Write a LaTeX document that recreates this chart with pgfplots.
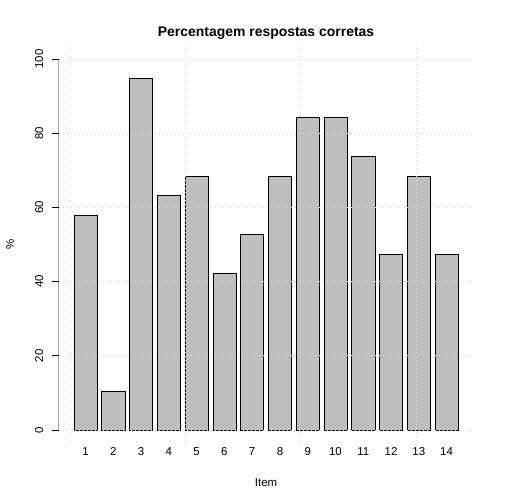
\documentclass[border=0pt]{standalone}
\usepackage{pgfplots}
\pgfplotsset{compat=1.18}
\usepackage{fontspec}
\setmainfont{Liberation Sans}
\definecolor{barfill}{RGB}{190,190,190}
\definecolor{gridc}{RGB}{215,215,215}
\begin{document}
\begin{tikzpicture}[x=1bp,y=1bp]
\useasboundingbox (0,0) rectangle (504,504);
\begin{axis}[
  at={(58.6bp,59.2bp)}, anchor=south west,
  scale only axis, width=414.9bp, height=400.6bp,
  xmin=-0.464, xmax=17.464, ymin=-4, ymax=104,
  axis line style={draw=none},
  xtick pos=bottom, ytick pos=left,
  tick align=outside, major tick length=7bp,
  axis on top,
  font=\fontsize{11.5}{13}\selectfont,
  /pgf/number format/assume math mode=true,
  ytick={0,20,40,60,80,100},
  yticklabel style={xshift=-8.6bp, rotate=90, anchor=base},
  xtick={0.7,1.9,3.1,4.3,5.5,6.7,7.9,9.1,10.3,11.5,12.7,13.9,15.1,16.3},
  xticklabels={1,2,3,4,5,6,7,8,9,10,11,12,13,14},
  xticklabel style={anchor=base, yshift=-4bp},
  x tick style={draw=none},
  y tick style={black, line width=0.75bp},
  extra x ticks={0,5,10,15},
  extra x tick labels={},
  extra x tick style={grid=major, tick style={draw=none}},
  ymajorgrids,
  grid style={gridc, dash pattern=on 1bp off 3bp, line width=0.75bp},
  title={\bfseries\fontsize{14}{17}\selectfont Percentagem respostas corretas},
  title style={at={(0.5,1)}, anchor=base, yshift=2.2bp},
  xlabel={Item},
  xlabel style={at={(0.5,0)}, anchor=base, yshift=-41.2bp},
  ylabel={\%},
  ylabel style={at={(0,0.5)}, anchor=base, yshift=44.8bp},
]
\addplot[ybar, bar width=1, fill=barfill, draw=black, line width=0.6bp]
  coordinates {(0.7,57.89) (1.9,10.53) (3.1,94.74) (4.3,63.16) (5.5,68.42) (6.7,42.11) (7.9,52.63) (9.1,68.42) (10.3,84.21) (11.5,84.21) (12.7,73.68) (13.9,47.37) (15.1,68.42) (16.3,47.37)};
\draw[black, line width=0.75bp] (axis cs:-0.464,0) -- (axis cs:-0.464,100);
\end{axis}
\end{tikzpicture}
\end{document}
